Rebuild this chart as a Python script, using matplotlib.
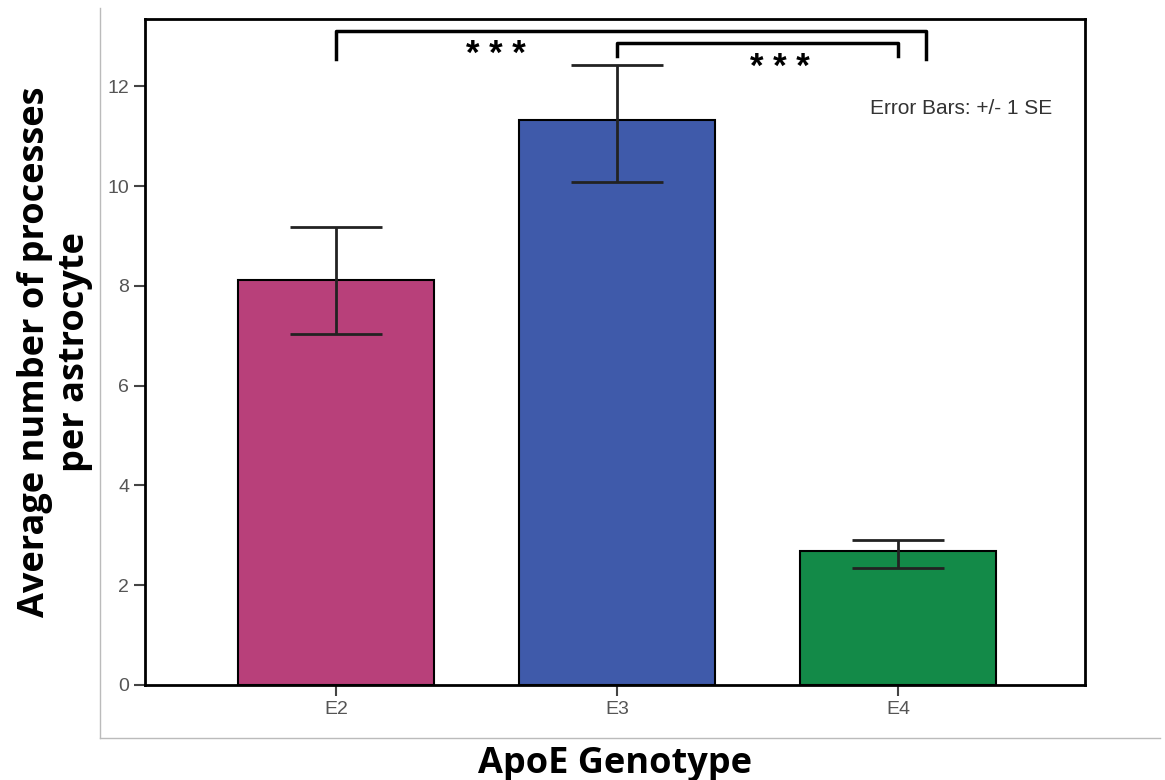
import matplotlib.pyplot as plt
from matplotlib.lines import Line2D

genotypes = ["E2", "E3", "E4"]
means = [8.12, 11.32, 2.69]
err_low = [7.03, 10.08, 2.34]
err_high = [9.18, 12.42, 2.91]
colors = ["#B8407A", "#3F5AAA", "#138A48"]

fig = plt.figure(figsize=(11.65, 7.8), dpi=100)
ax = fig.add_axes([0.1245, 0.1218, 0.8068, 0.8538])

x = range(len(genotypes))
yerr = [[m - lo for m, lo in zip(means, err_low)], [hi - m for m, hi in zip(means, err_high)]]
ax.bar(x, means, width=0.7, color=colors, edgecolor="black", linewidth=1.5, zorder=2)
ax.errorbar(x, means, yerr=yerr, fmt="none", ecolor="#222222", elinewidth=2,
            capsize=33, capthick=2, zorder=3)

ax.set_xlim(-0.68, 2.665)
ax.set_ylim(0, 13.35)
ax.set_yticks([0, 2, 4, 6, 8, 10, 12])
ax.set_xticks(list(x))
ax.set_xticklabels(genotypes)
for s in ax.spines.values():
    s.set_linewidth(2)
ax.tick_params(axis="both", colors="#444444", labelcolor="#555555", labelsize=14,
               length=8, width=1.5, labelfontfamily="Liberation Sans")

ax.set_ylabel("Average number of processes\nper astrocyte", fontsize=26, fontweight="bold",
              family="Open Sans", labelpad=10, linespacing=1.15)
ax.set_xlabel("ApoE Genotype", fontsize=26, fontweight="bold", family="Open Sans", labelpad=20)

# significance brackets
ax.plot([0, 0, 2.1, 2.1], [12.55, 13.12, 13.12, 12.55], color="black", lw=2.5, clip_on=False)
ax.plot([1, 1, 2.0, 2.0], [12.6, 12.87, 12.87, 12.6], color="black", lw=2.5, clip_on=False)
ax.text(0.57, 12.3, "* * *", fontsize=25, fontweight="bold", ha="center", va="bottom",
        family="Liberation Sans")
ax.text(1.58, 12.04, "* * *", fontsize=25, fontweight="bold", ha="center", va="bottom",
        family="Liberation Sans")

ax.text(0.965, 0.865, "Error Bars: +/- 1 SE", transform=ax.transAxes, ha="right", va="center",
        fontsize=15, color="#333333", family="Liberation Sans")

# light grey frame around the chart
fig.add_artist(Line2D([100 / 1165, 100 / 1165], [1 - 8 / 780, 1 - 738 / 780], color="#BBBBBB", lw=1))
fig.add_artist(Line2D([100 / 1165, 1160 / 1165], [1 - 738 / 780, 1 - 738 / 780], color="#BBBBBB", lw=1))

fig.savefig("out.png", dpi=100)
